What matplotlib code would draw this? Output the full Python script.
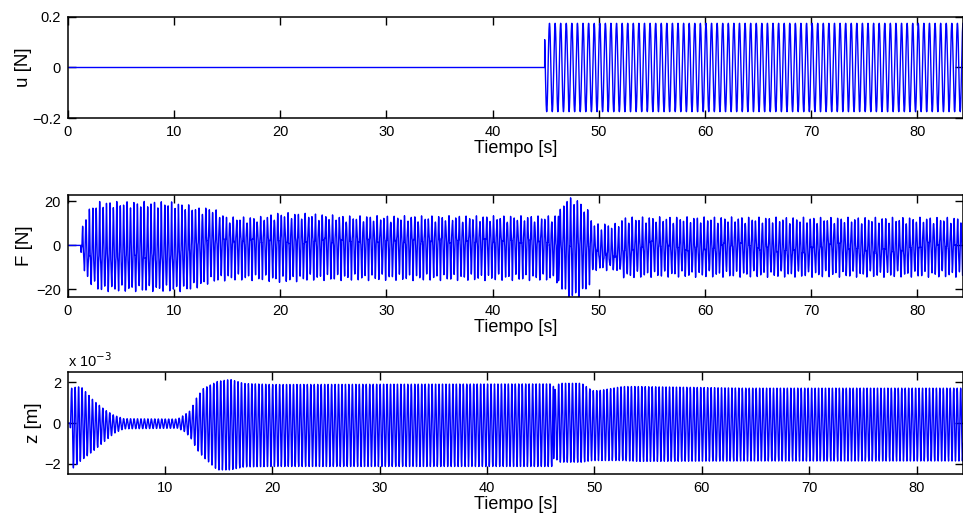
import numpy as np
import matplotlib.pyplot as plt

plt.rcParams['font.family'] = ['Liberation Sans', 'DejaVu Sans']
plt.rcParams['xtick.direction'] = 'in'
plt.rcParams['ytick.direction'] = 'in'
plt.rcParams['xtick.top'] = True
plt.rcParams['ytick.right'] = True
plt.rcParams['xtick.major.size'] = 6
plt.rcParams['ytick.major.size'] = 6
plt.rcParams['axes.linewidth'] = 1.1

# input force u: off, then a sine switched on
u_t_on = 44.9
u_amp = 0.175
u_freq = 1.9

# response frequency of the structure [Hz]
resp_freq = 3.1
phase_jump_t = 46.2
t_end = 84.3

# measured force F, envelope knots [s], [N]
F_knot_t = [0, 1.2, 1.25, 1.6, 2.2, 3, 6, 9.5, 11, 12.5, 13.5, 15, 18, 20, 23, 26, 45,
            45.8, 46.3, 47, 48, 49, 49.6, 50.5, 51.6, 52.4, 55, 60, 70, 84.3]
F_upper = [0, 0, 6, 14, 18, 20, 20, 20, 19, 17, 17.5, 13, 13, 15, 14.5, 13.5, 13.5,
           13.5, 16, 22, 21, 16, 10, 10, 10, 13, 13, 13, 12.8, 12.8]
F_lower = [0, 0, -8, -14, -18, -21, -21, -21, -21, -19, -17, -16, -16, -17, -16, -16, -16,
           -16, -18, -24, -24, -20, -11.5, -11.5, -11.5, -15, -14.5, -14.5, -14.5, -14.5]
# level where the force lingers each cycle (dark band)
F_band_t = [0, 1.2, 2, 10, 13, 45, 46, 49, 50.5, 51.5, 55, 58, 60.5, 63, 67, 69.5, 72,
            75, 78.5, 81, 84.3]
F_band = [0, 0, -5, -5, 2, 2, 0, 0, -4.5, -4.5, 1, -1.5, -1.5, 1, -2.5, -2.5, 1,
          -2.5, -2.5, 1, -1]
# higher-frequency ripple riding on the force
F_ripple = 1.5
F_ripple_freq = 8.116

# displacement z, envelope knots [s], [1e-3 m]
z_knot_t = [1.0, 1.2, 1.25, 1.5, 2.2, 2.8, 3.4, 4.4, 5.3, 6.2, 11.2, 11.8, 12.4, 13.0,
            13.6, 14.9, 16.1, 17.4, 20, 46.05, 46.4, 46.7, 48.8, 49.8, 50.4, 52.6, 54.1,
            64, 84.3]
z_upper = [0, 0, 1.7, 1.75, 1.8, 1.45, 1.1, 0.67, 0.38, 0.22, 0.2, 0.4, 0.62, 1.28,
           1.7, 2.05, 2.15, 1.95, 1.9, 1.93, 1.6, 1.96, 1.96, 1.6, 1.6, 1.8, 1.8,
           1.72, 1.72]
z_lower = [0, 0, -0.95, -2.2, -1.85, -1.6, -1.35, -0.9, -0.5, -0.28, -0.25, -0.4, -0.7,
           -1.3, -1.67, -2.3, -2.3, -2.15, -2.13, -2.13, -1.75, -1.92, -1.92, -1.84,
           -1.84, -1.84, -1.88, -1.86, -1.86]

t = np.arange(0, t_end, 0.004)
theta = 2 * np.pi * resp_freq * t + np.pi * (t > phase_jump_t)
s = np.sin(theta)

u = np.where(t >= u_t_on,
             u_amp * np.sin(2 * np.pi * u_freq * (t - u_t_on) + 2.46), 0.0)

up = np.interp(t, F_knot_t, F_upper)
lo = np.interp(t, F_knot_t, F_lower)
on = (up - lo) > 0
rip = np.where(on, F_ripple, 0.0)
band = np.clip(np.interp(t, F_band_t, F_band), lo + rip, up - rip)
g = np.sign(s) * np.abs(s) ** 1.6
F = (band
     + np.where(g > 0, (up - rip - band) * g, (band - lo - rip) * g)
     + rip * np.sin(2 * np.pi * F_ripple_freq * t))

tz = t[t >= 1.0]
zu = np.interp(tz, z_knot_t, z_upper)
zl = np.interp(tz, z_knot_t, z_lower)
z = 0.5 * (zu + zl) + 0.5 * (zu - zl) * np.sin(2 * np.pi * resp_freq * tz + np.pi * (tz > phase_jump_t) + 0.6)

fig = plt.figure(figsize=(9.63, 5.18), dpi=100)
ax1 = fig.add_axes([0.0706, 0.7722, 0.9294, 0.195])
ax2 = fig.add_axes([0.0706, 0.4272, 0.9294, 0.1964])
ax3 = fig.add_axes([0.0706, 0.0849, 0.9294, 0.1964])

blue = '#0000ff'
ax1.plot(t, u, color=blue, lw=1.0)
ax2.plot(t, F, color=blue, lw=1.0)
ax3.plot(tz, z, color=blue, lw=1.0)

ax1.set_xlim(0, t_end)
ax1.set_ylim(-0.2, 0.2)
ax1.set_yticks([-0.2, 0, 0.2])
ax1.set_yticklabels(['\u22120.2', '0', '0.2'])

ax2.set_xlim(0, t_end)
ax2.set_ylim(-23.3, 22.9)
ax2.set_yticks([-20, 0, 20])

ax3.set_xlim(1.0, t_end)
ax3.set_ylim(-2.5, 2.5)
ax3.set_yticks([-2, 0, 2])
ax3.text(0.0, 1.05, r'x 10$^{-3}$', transform=ax3.transAxes, fontsize=10.5,
         ha='left', va='baseline')

for ax, lab, lx in [(ax1, 'u [N]', -0.040), (ax2, 'F [N]', -0.039), (ax3, 'z [m]', -0.029)]:
    ax.set_xticks(np.arange(0 if ax is not ax3 else 10, 81, 10))
    ax.tick_params(labelsize=10.5, pad=5, width=1.0)
    ax.set_xlabel('Tiempo [s]', fontsize=13, labelpad=1)
    ax.set_ylabel(lab, fontsize=13.5)
    ax.yaxis.set_label_coords(lx, 0.5)

fig.savefig('out.png', dpi=100)
